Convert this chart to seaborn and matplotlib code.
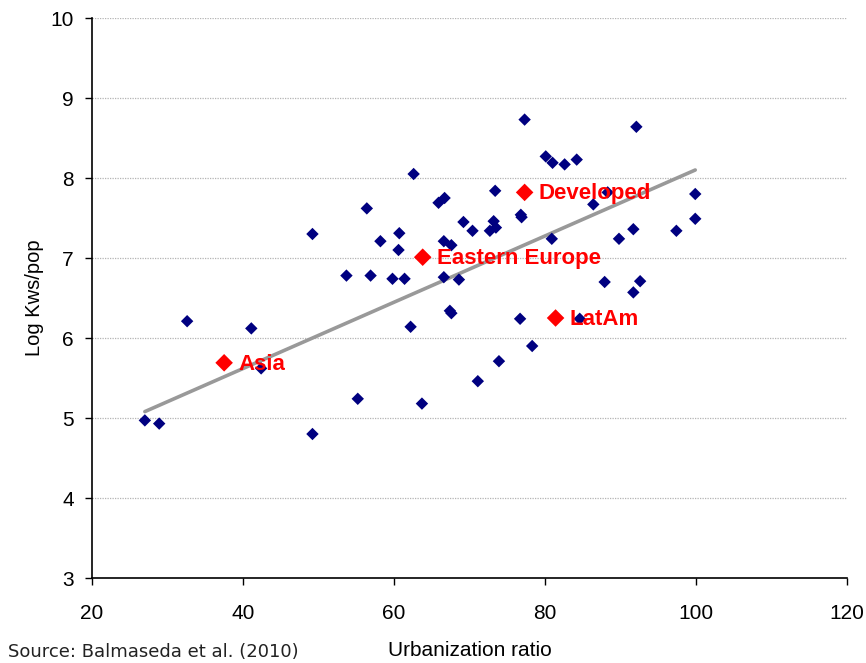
import matplotlib
matplotlib.use("Agg")
import matplotlib.pyplot as plt
import seaborn as sns
import pandas as pd

# Country observations (urbanization %, log kWh per capita)
urban = [27.0, 28.9, 32.6, 41.1, 42.4, 49.2, 49.2, 55.2, 53.7, 56.4,
         56.9, 58.2, 59.8, 60.6, 60.7, 61.4, 62.2, 62.6, 63.7, 65.9,
         66.7, 66.6, 67.6, 66.6, 68.6, 67.4, 67.6, 69.2, 70.4, 71.1,
         72.7, 73.2, 73.5, 73.4, 73.9, 77.3, 76.8, 76.9, 76.7, 78.3,
         80.1, 81.0, 82.6, 84.2, 80.9, 84.6, 86.4, 88.3, 89.8, 91.7,
         87.9, 91.7, 92.6, 92.1, 97.4, 99.9, 99.9]
log_kws = [4.97, 4.93, 6.21, 6.12, 5.62, 7.30, 4.80, 5.24, 6.78, 7.62,
           6.78, 7.21, 6.74, 7.10, 7.31, 6.74, 6.14, 8.05, 5.18, 7.69,
           7.75, 7.21, 7.16, 6.76, 6.73, 6.34, 6.31, 7.45, 7.34, 5.46,
           7.34, 7.46, 7.38, 7.84, 5.71, 8.73, 7.54, 7.51, 6.24, 5.90,
           8.27, 8.19, 8.17, 8.23, 7.24, 6.24, 7.67, 7.82, 7.24, 7.36,
           6.70, 6.57, 6.71, 8.64, 7.34, 7.80, 7.49]

# Regional averages
regions = ["Asia", "Eastern Europe", "Developed", "LatAm"]
region_urban = [37.5, 63.8, 77.3, 81.4]
region_kws = [5.69, 7.01, 7.82, 6.25]

# Linear trend as drawn in the source chart
trend_urban = [27.0, 99.9]
trend_kws = [5.08, 8.10]

x_ticks = [20, 40, 60, 80, 100, 120]
y_ticks = [3, 4, 5, 6, 7, 8, 9, 10]

df = pd.DataFrame({"urban": urban, "kws": log_kws})
rdf = pd.DataFrame({"region": regions, "urban": region_urban, "kws": region_kws})
tdf = pd.DataFrame({"urban": trend_urban, "kws": trend_kws})

sns.set_theme(style="white")
plt.rcParams["font.family"] = ["Liberation Sans", "DejaVu Sans"]
plt.rcParams["text.color"] = "black"
plt.rcParams["axes.labelcolor"] = "black"
plt.rcParams["xtick.color"] = "black"
plt.rcParams["ytick.color"] = "black"

fig = plt.figure(figsize=(8.66, 6.63), dpi=100)
ax = fig.add_axes([92 / 866, 1 - 578 / 663, (847 - 92) / 866, (578 - 18) / 663])

ax.set_xlim(20, 120)
ax.set_ylim(3, 10)
ax.set_xticks(x_ticks)
ax.set_yticks(y_ticks)

# gridlines
ax.yaxis.grid(True, linestyle=(0, (1, 1)), color="#b4b4b4", linewidth=0.9)
ax.xaxis.grid(False)
ax.set_axisbelow(True)

# trend line
sns.lineplot(data=tdf, x="urban", y="kws", ax=ax, color="#999999",
             linewidth=2.6, zorder=2)

sns.scatterplot(data=df, x="urban", y="kws", ax=ax, marker="D", s=40,
                color="#000080", edgecolor="none", zorder=3)
sns.scatterplot(data=rdf, x="urban", y="kws", ax=ax, marker="D", s=80,
                color="#ff0000", edgecolor="none", zorder=4)

for name, xv, yv in zip(regions, region_urban, region_kws):
    ax.annotate(name, (xv, yv), xytext=(10, -1), textcoords="offset points",
                color="#ff0000", fontsize=16, fontweight="bold",
                va="center", ha="left", zorder=5)

for side in ["top", "right"]:
    ax.spines[side].set_visible(False)
for side in ["left", "bottom"]:
    ax.spines[side].set_color("black")
    ax.spines[side].set_linewidth(1.2)

ax.tick_params(axis="both", which="major", direction="out", length=5,
               width=1, color="black", labelcolor="black", labelsize=15,
               bottom=True, left=True)
ax.tick_params(axis="y", pad=8)
ax.tick_params(axis="x", pad=14)
ax.set_xlabel("Urbanization ratio", fontsize=15, labelpad=13, color="black")
ax.set_ylabel("Log Kws/pop", fontsize=14.5, labelpad=5, color="black")

fig.text(8 / 866, 2 / 663, "Source: Balmaseda et al. (2010)",
         fontsize=13, family=["DejaVu Sans"], va="bottom", ha="left",
         color="#222222")

fig.savefig("out.png", dpi=100)
